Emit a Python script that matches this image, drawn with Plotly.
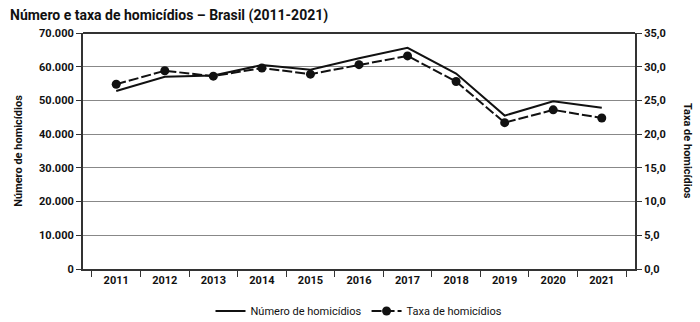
import plotly.graph_objects as go

years = ["2011", "2012", "2013", "2014", "2015", "2016", "2017", "2018", "2019", "2020", "2021"]
numero = [52807, 57045, 57396, 60474, 59080, 62517, 65602, 57956, 45503, 49773, 47847]
taxa = [27.4, 29.4, 28.6, 29.8, 28.9, 30.3, 31.6, 27.8, 21.7, 23.6, 22.4]
left_ticks = list(range(0, 70001, 10000))
right_ticks = [0, 5, 10, 15, 20, 25, 30, 35]

FONT = "Liberation Sans Narrow, Roboto, sans-serif"

fig = go.Figure()
fig.add_trace(go.Scatter(x=years, y=numero, name="Número de homicídios", mode="lines",
                         line=dict(color="#111111", width=2)))
fig.add_trace(go.Scatter(x=years, y=taxa, name="Taxa de homicídios", mode="lines+markers",
                         yaxis="y2", line=dict(color="#111111", width=2, dash="10px,3px"),
                         marker=dict(color="#111111", size=9)))

fig.update_layout(
    width=700, height=322,
    margin=dict(l=83, r=65, t=33, b=53, autoexpand=False),
    paper_bgcolor="white", plot_bgcolor="white",
    font=dict(family=FONT, size=11, color="#111111"),
    title=dict(text="<b>Número e taxa de homicídios – Brasil (2011-2021)</b>",
               x=10/700, xanchor="left", y=1-15/322, yanchor="middle",
               font=dict(family=FONT, size=14, color="#111111")),
    xaxis=dict(type="category", tickson="boundaries", ticks="outside", ticklen=6,
               tickcolor="#333", showline=True, linecolor="#333", linewidth=2,
               showgrid=False, tickfont=dict(size=11), automargin=False,
               tickvals=years, ticktext=["<b>%s</b>" % y for y in years]),
    yaxis=dict(range=[0, 70000], ticks="outside", ticklen=5, automargin=False,
               tickcolor="#333", showline=True, linecolor="#333", linewidth=2,
               gridcolor="#888", gridwidth=1, zeroline=False,
               tickvals=left_ticks,
               ticktext=["<b>%s</b>" % (f"{v:,}".replace(",", ".")) for v in left_ticks],
               title=dict(text="<b>Número de homicídios</b>", standoff=14, font=dict(size=11))),
    yaxis2=dict(range=[0, 35], overlaying="y", side="right", ticks="outside", ticklen=5,
                tickcolor="#333", showline=True, linecolor="#333", linewidth=2,
                showgrid=False, zeroline=False, automargin=False,
                tickvals=right_ticks,
                ticktext=["<b>%s</b>" % (f"{v:.1f}".replace(".", ",")) for v in right_ticks]),
    legend=dict(orientation="h", x=0.5, xanchor="center", yref="container",
                y=1-311/322, yanchor="middle", font=dict(size=11)),
    showlegend=True,
)

# top border
fig.add_shape(type="line", xref="paper", yref="paper", x0=0, x1=1, y0=1, y1=1,
              line=dict(color="#333", width=2))

fig.add_annotation(text="<b>Taxa de homicídios</b>", xref="paper", yref="paper",
                   x=1, xshift=53, xanchor="center", y=0.5, yanchor="middle",
                   textangle=90, showarrow=False, font=dict(size=11))

fig.write_html("out.html")
